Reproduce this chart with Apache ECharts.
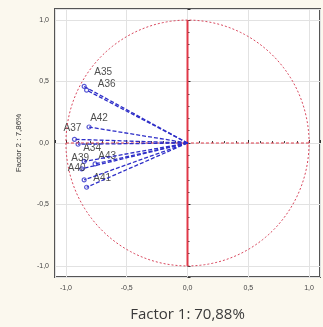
<!DOCTYPE html>
<html>
<head>
<meta charset="utf-8">
<script src="https://cdn.jsdelivr.net/npm/echarts@6/dist/echarts.min.js"></script>
<style>
html,body{margin:0;padding:0;background:#fbf8ee;}
#chart{width:323px;height:327px;}
</style>
</head>
<body>
<div id="chart"></div>
<script>
// loadings on factor 1 / factor 2
var variables = ['A35','A36','A42','A37','A34','A39','A43','A40','A41','A38'];
var factor1 = [-0.85,-0.83,-0.81,-0.93,-0.90,-0.85,-0.76,-0.87,-0.85,-0.83];
var factor2 = [0.46,0.43,0.13,0.03,-0.01,-0.15,-0.17,-0.21,-0.30,-0.36];
var tickLabels = ['-1,0','-0,5','0,0','0,5','1,0'];

// label offsets so they sit like the original
var labelOffsets = {
	A35:[19,-14], A36:[20,-6], A42:[10,-9], A37:[-2,-11], A34:[14,4],
	A39:[-4,-3], A43:[12,-8], A40:[-5,-1], A41:[18,-2], A38:null
};

var dom = document.getElementById("chart");
var myChart = echarts.init(dom);

// unit circle
var circle = [];
for (var i = 0; i <= 180; i++) {
	var a = i / 180 * Math.PI * 2;
	circle.push([Math.cos(a), Math.sin(a)]);
}

function fmtTick(v) {
	var r = Math.round(v * 2) / 2;
	if (Math.abs(r - v) > 0.001) return '';
	return tickLabels[Math.round((r + 1) * 2)] || '';
}

var series = [];
series.push({
	type:'line', data:circle, symbol:'none', silent:true,
	lineStyle:{color:'#d9485e', width:1, type:[2,2]}
});
series.push({
	type:'line', data:[[0,-1],[0,1]], symbol:'none', silent:true,
	lineStyle:{color:'#e03848', width:2}
});
series.push({
	type:'line', data:[[-1,0],[1,0]], symbol:'none', silent:true,
	lineStyle:{color:'#e03848', width:1.2, type:[3,2]}
});

for (var k = 0; k < variables.length; k++) {
	series.push({
		type:'line', data:[[0,0],[factor1[k],factor2[k]]], symbol:'none', silent:true,
		lineStyle:{color:'#2e2ec8', width:1.3, type:[4,2]}
	});
}

var points = [];
for (var k = 0; k < variables.length; k++) {
	var off = labelOffsets[variables[k]];
	points.push({
		value:[factor1[k],factor2[k]],
		name:variables[k],
		label:off ? {show:true, position:'inside', offset:off} : {show:false}
	});
}
series.push({
	type:'scatter', data:points, symbol:'circle', symbolSize:4,
	itemStyle:{color:'#ffffff', borderColor:'#2e2ec8', borderWidth:1.2},
	label:{formatter:'{b}', color:'#222', fontSize:10, fontFamily:'Liberation Sans'}
});

var option = {
	backgroundColor:'#fbf8ee',
	animation:false,
	grid:{left:55, right:0, top:9, bottom:50, show:true, backgroundColor:'#ffffff', borderColor:'#555', borderWidth:2},
	xAxis:{
		type:'value', min:-1.09, max:1.09, splitNumber:4,
		name:'Factor 1: 70,88%', nameLocation:'middle', nameGap:30,
		nameTextStyle:{fontSize:15, color:'#3a3a3a', fontFamily:'Open Sans'},
		axisLine:{show:false},
		axisTick:{inside:true, length:3, lineStyle:{color:'#333'}},
		minorTick:{show:true, splitNumber:5, length:2, lineStyle:{color:'#444'}},
		axisLabel:{formatter:fmtTick, fontSize:7, color:'#444', margin:8},
		splitLine:{show:true, lineStyle:{color:'#e2e2e2', width:1}}
	},
	yAxis:{
		type:'value', min:-1.09, max:1.09, splitNumber:4,
		name:'Factor 2 : 7,86%', nameLocation:'middle', nameGap:32,
		nameTextStyle:{fontSize:8, color:'#333', fontFamily:'Liberation Sans'},
		axisLine:{show:false},
		axisTick:{inside:true, length:3, lineStyle:{color:'#333'}},
		minorTick:{show:true, splitNumber:5, length:2, lineStyle:{color:'#444'}},
		axisLabel:{formatter:fmtTick, fontSize:7, color:'#444', margin:6},
		splitLine:{show:true, lineStyle:{color:'#e2e2e2', width:1}}
	},
	series:series
};

if (option && typeof option === "object") {
	myChart.setOption(option, true);
}
</script>
</body>
</html>
